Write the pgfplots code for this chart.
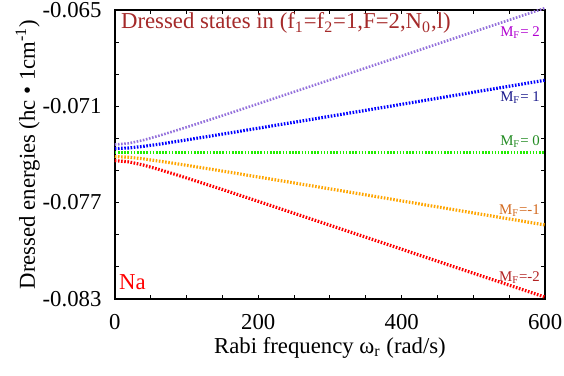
\documentclass[border=0pt]{standalone}
\usepackage{fontspec}
\setmainfont{Liberation Serif}
\usepackage{pgfplots}
\pgfplotsset{compat=1.18}
\definecolor{mftwo}{HTML}{9370DB}
\definecolor{mfone}{HTML}{0000FF}
\definecolor{mfzero}{HTML}{22EE00}
\definecolor{mfmone}{HTML}{FFA500}
\definecolor{mfmtwo}{HTML}{FF0000}
\definecolor{titlec}{HTML}{A52A2A}
\definecolor{lbtwo}{HTML}{B000D0}
\definecolor{lbone}{HTML}{1A1A8C}
\definecolor{lbzero}{HTML}{228B22}
\definecolor{lbmone}{HTML}{D2691E}
\definecolor{lbmtwo}{HTML}{B22222}
\begin{document}
\begin{tikzpicture}[font=\fontsize{11.5}{13}\selectfont]
\begin{axis}[
  scale only axis,
  width=217.5pt, height=146pt,
  xmin=0, xmax=600, ymin=-0.083, ymax=-0.065,
  xtick={0,200,400,600},
  minor x tick num=3,
  ytick={-0.083,-0.077,-0.071,-0.065},
  yticklabels={-0.083,-0.077,-0.071,-0.065},
  minor y tick num=2,
  tick align=inside,
  major tick length=2pt, minor tick length=2pt,
  axis line style={line width=0.8pt},
  every tick/.style={black, line width=0.5pt},
  /pgf/number format/assume math mode=true,
  xticklabel style={yshift=-4.5pt},
  yticklabel style={xshift=-3.2pt},
  scaled y ticks=false,
  clip=false,
  xlabel={Rabi frequency ω\textsubscript{r} (rad/s)},
  ylabel={Dressed energies (hc • 1cm\textsuperscript{-1})},
  every axis x label/.style={at={(axis description cs:0.5,-0.188)}, anchor=base},
  every axis y label/.style={at={(axis description cs:-0.2023,0.5)}, rotate=90, anchor=center},
  every axis plot/.append style={line width=1.6pt, dash pattern=on 0.8pt off 0.8pt},
]
\addplot[mftwo, line width=1.3pt] coordinates {
(0,-0.07339) (20,-0.07331) (40,-0.07311) (60,-0.07286) (80,-0.07259) (100,-0.07231)
(150,-0.07159) (200,-0.07085) (300,-0.06936) (400,-0.06787) (500,-0.06637) (600,-0.06488)};
\addplot[mfone] coordinates {
(0,-0.07364) (20,-0.07360) (40,-0.07350) (60,-0.07338) (80,-0.07324) (100,-0.07310)
(150,-0.07274) (200,-0.07237) (300,-0.07163) (400,-0.07088) (500,-0.07013) (600,-0.06938)};
\addplot[mfzero] coordinates {
(0,-0.07389) (100,-0.07389) (200,-0.07389) (300,-0.07389) (400,-0.07389) (500,-0.07389) (600,-0.07389)};
\addplot[mfmone] coordinates {
(0,-0.07414) (20,-0.07418) (40,-0.07428) (60,-0.07441) (80,-0.07454) (100,-0.07468)
(150,-0.07504) (200,-0.07541) (300,-0.07615) (400,-0.07690) (500,-0.07765) (600,-0.07840)};
\addplot[mfmtwo] coordinates {
(0,-0.07439) (20,-0.07447) (40,-0.07467) (60,-0.07492) (80,-0.07519) (100,-0.07547)
(150,-0.07619) (200,-0.07693) (300,-0.07842) (400,-0.07991) (500,-0.08141) (600,-0.08290)};
\node[titlec, anchor=base west, inner sep=0pt] at (axis cs:8.3,-0.06617)
  {Dressed states in (f\textsubscript{1}=f\textsubscript{2}=1,F=2,N\textsubscript{0},l)};
\node[red, anchor=base west, inner sep=0pt] at (axis cs:5.5,-0.08245) {Na};
\begin{scope}[every node/.style={anchor=base east, inner sep=0pt, font=\fontsize{7.5}{9}\selectfont}]
\node[lbtwo] at (axis cs:593,-0.06666) {M\textsubscript{F}= 2};
\node[lbone] at (axis cs:593,-0.07073) {M\textsubscript{F}= 1};
\node[lbzero] at (axis cs:593,-0.07345) {M\textsubscript{F}= 0};
\node[lbmone] at (axis cs:593,-0.07776) {M\textsubscript{F}=-1};
\node[lbmtwo] at (axis cs:593,-0.08195) {M\textsubscript{F}=-2};
\end{scope}
\end{axis}
\pgfresetboundingbox
\path[use as bounding box] (-58pt,-39pt) rectangle (227pt,151pt);
\end{tikzpicture}
\end{document}
